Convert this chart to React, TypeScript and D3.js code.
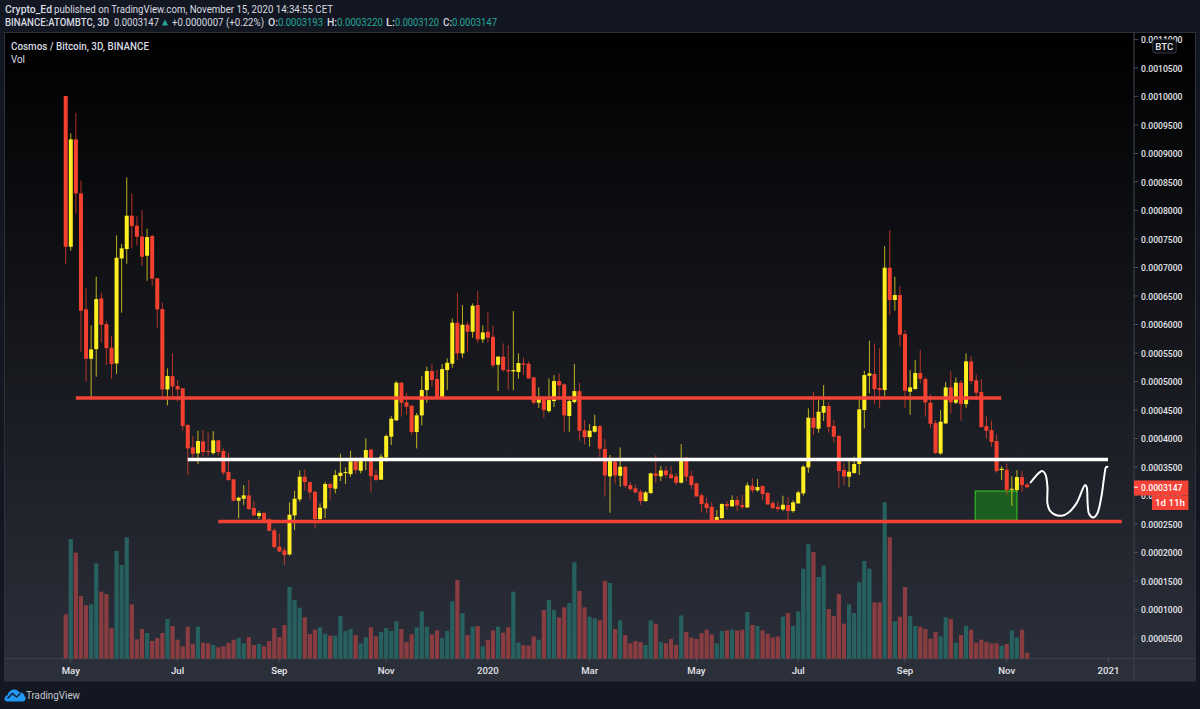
import React from "react";
import * as d3 from "d3";

// Prices in units of 0.0000001 BTC, 3-day candles
const opens = [10007,7364,9247,8299,6265,5399,5569,6458,6007,5592,5317,7159,7323,7908,7732,7545,7206,7551,6808,6270,
4861,5095,4920,4880,4237,3845,3740,3950,3781,3745,3968,3781,3412,3284,2909,2944,3003,2781,2640,2693,
2582,2389,2103,2038,1968,2652,2933,3330,3237,3067,2588,2775,3202,3120,3342,3395,3377,3599,3436,3623,
3804,3360,3278,3669,4032,4319,4979,4634,4576,4114,4406,4850,5183,5043,4704,5201,5312,6031,5493,5996,
5873,6341,5739,5873,5785,5294,5435,5201,5177,5166,5318,5312,5072,4628,4721,4481,4657,5008,4949,4394,
4639,4832,4148,4025,4119,4218,3815,3336,3593,3347,3505,3183,3125,3067,2903,3043,3388,3336,3441,3371,
3336,3225,3664,3342,3213,3005,2863,2804,2564,2605,2851,2810,2921,2833,2792,3172,3091,3167,3044,2868,
2804,2757,2833,2728,2863,3038,3494,4365,4172,4453,4570,4219,4044,3447,3330,3395,3553,4499,5101,5131,
4885,4850,6996,6429,6516,5832,4821,4868,5148,5043,4628,4271,3739,4265,4897,4628,4979,4604,5353,5020,
4815,4218,4148,3955,3447,3453,3102,3096,3324,3193];
const highs = [10007,9352,9714,8522,6633,5984,6838,6557,6060,5797,7563,7411,8580,8294,7896,8007,7680,7574,6820,6382,
5230,5493,5025,4880,4254,4044,4137,4149,4102,4131,3980,3827,3757,3295,2980,3184,3272,2898,2734,2710,
2599,2424,2330,2085,2880,3085,3441,3459,3243,3079,2863,3237,3225,3447,3734,3494,3786,3670,3670,4003,
3821,3447,3728,4073,4394,5008,4997,4804,4587,4447,5095,5259,5306,5201,5306,5405,6107,6557,6341,6048,
6370,6590,5984,6218,5984,5446,5668,5639,6236,5493,5417,5353,5084,4897,4745,5055,5113,5142,4967,4745,
5306,4978,4324,4253,4417,4236,3990,3710,3610,3844,3517,3236,3195,3107,3078,3400,3710,3517,3517,3517,
3389,3903,3681,3430,3225,3038,2962,2892,2746,2863,2909,3003,2991,3009,3231,3307,3290,3178,3061,2909,
2892,2997,2974,2915,3085,3535,4529,4815,4675,4938,4640,4324,4061,3564,3652,3681,4722,5189,5715,5669,
5581,7376,7657,6838,6674,5903,5201,5376,5552,5084,4780,4324,4499,4990,5183,5072,5025,5493,5446,5125,
5043,4394,4312,4072,3517,3564,3341,3447,3429,3220];
const lows = [7054,7294,7949,5522,4996,4721,5084,5686,5288,5048,5136,6206,7066,7335,7387,7031,6767,6680,5949,4720,
4581,4721,4645,4137,3360,3670,3553,3681,3699,3716,3699,3360,3260,2898,2599,2833,2751,2640,2588,2558,
2371,2073,2009,1781,1945,2395,2892,3085,2933,2424,2512,2605,2933,3038,3254,3202,3330,3383,3389,3447,
3050,3254,3272,3593,3886,4307,4383,4418,4061,3827,4230,4628,4908,4692,4698,4850,5242,5376,5417,5522,
5768,5680,5680,5680,5247,4832,5171,4862,4850,5049,5113,5049,4598,4534,4365,4452,4552,4674,4113,4119,
4616,3961,3897,3856,4101,3680,2979,2698,3213,3154,3137,3084,3037,2838,2891,3031,3224,3254,3300,3289,
3184,3213,3254,3114,2980,2705,2687,2547,2547,2594,2746,2798,2728,2763,2781,3038,3067,2921,2833,2757,
2716,2728,2512,2699,2851,2997,3400,4061,4102,4307,4102,3927,3137,3184,3149,3383,3360,4178,4792,4604,
4528,4745,6160,6242,5610,4540,4417,4856,4967,4382,4178,3727,3710,4254,4441,4604,4312,4540,4955,4675,
4195,3996,3856,3400,3271,3008,2821,3067,3067,3120];
const closes = [7364,9247,8299,6241,5399,5563,6446,5996,5586,5306,7171,7335,7908,7726,7539,7189,7533,6803,6265,4861,
5095,4914,4861,4219,3827,3734,3956,3763,3775,3968,3763,3401,3272,2909,2962,3003,2763,2652,2693,2570,
2383,2097,2021,1956,2664,2944,3330,3237,3055,2588,2787,3202,3132,3360,3400,3412,3599,3447,3646,3798,
3342,3272,3681,4044,4348,4979,4628,4558,4114,4406,4850,5183,5025,4704,5218,5329,6031,5493,5996,5873,
6329,5739,5861,5768,5283,5435,5201,5177,5201,5323,5294,5055,4628,4721,4499,4674,5008,4932,4406,4657,
4832,4137,4025,4137,4218,3821,3353,3604,3353,3505,3172,3113,3055,2903,3055,3388,3347,3441,3359,3306,
3225,3652,3330,3184,2985,2851,2781,2559,2623,2851,2816,2921,2827,2798,3178,3091,3149,3026,2845,2781,
2763,2839,2728,2880,3055,3506,4365,4190,4470,4570,4202,4032,3430,3336,3418,3553,4511,5113,5142,4868,
4850,6996,6429,6516,5821,4838,4897,5148,5049,4634,4259,3745,4295,4897,4634,4979,4604,5353,5008,4803,
4201,4137,3938,3429,3470,3096,3119,3324,3184,3147];

// Volume (relative units, the panel has no scale of its own)
const volumes = [133,359,318,188,160,163,286,201,194,92,323,281,364,163,58,89,77,53,62,77,
119,98,57,37,96,44,96,48,46,41,34,37,48,57,62,46,65,41,44,37,
53,92,65,101,215,176,153,124,74,87,94,75,69,69,128,83,89,71,46,64,
94,67,80,92,83,112,89,50,73,94,142,96,73,85,62,83,172,236,137,71,
96,98,37,57,85,96,78,94,201,48,41,39,67,57,146,176,146,124,154,167,
289,203,154,126,121,115,233,227,89,115,71,46,53,50,41,115,105,50,46,59,
41,130,80,64,59,77,87,73,46,83,85,87,85,87,140,101,98,85,75,64,
67,126,137,98,142,270,343,320,245,279,149,128,194,105,163,137,229,293,270,169,
169,469,364,112,126,215,128,98,96,89,60,80,67,124,119,48,71,98,87,48,
57,50,46,46,39,44,85,64,87,18];
// direction of every volume bar, read bar by bar: t = teal, r = red
const volumeDirection = (
  "rtrrrttrrrtttrrrtrrr" +
  "trrrrrtrrtrrrrttrrtr" +
  "rrrrtttrrrttrttttrtt" +
  "rrttttrrrtttrrtttrtr" +
  "trtrrtrrttrrrtrttrrt" +
  "trrttrrtrtrrrrttrtrr" +
  "rtrrrrrrttrtrrtrtrrr" +
  "rtrttttrttrrrrtttttr" +
  "rtrtrrttrrrrttrtrtrr" +
  "rrrrtrttrr"
).split("");

const timeTickIdx = [1, 22, 42, 63, 83, 103, 124, 144, 165, 185, 205];
const timeTickLabels = ["May", "Jul", "Sep", "Nov", "2020", "Mar", "May", "Jul", "Sep", "Nov", "2021"];
const priceTicks = d3.range(500, 11001, 500);

// Drawings on the chart
const supportTop = { from: 2, to: 183.9, price: 4710 };
const resistance = { from: 24, to: 204.9, price: 3631 };
const supportLow = { from: 30, to: 207.6, price: 2544 };
const greenBox = { from: 178.8, to: 187, top: 3079, bottom: 2565 };
const waveIdx = [189.7,190.5,191.5,192.05,192.6,193,193,193.5,194.5,195.8,197.1,198.7,200.4,200.7,200.9,201.2,202,202.8,203.6,204.2,204.5,204.8];
const wavePrice = [3230,3318,3412,3429,3371,3154,2862,2733,2663,2646,2698,2862,3184,3154,2862,2675,2616,2687,2979,3359,3494,3505];

const lastPrice = 3147;
const FONT = "Roboto,'Noto Sans',sans-serif";
const TEAL = "#26a69a";
const LIGHT = "#d8dae0";

const x = d3.scaleLinear().domain([0, 189]).range([65.7, 1027.1]);
const y = d3.scaleLinear().domain([500, 11000]).range([638.1, 39.4]);
const vy = d3.scaleLinear().domain([0, 469]).range([658.7, 502.3]);
const fmt = (v: number) => (v / 1e7).toFixed(7);

function T(p: { x: number; y: number; w: number; s?: number; b?: boolean; f?: string; c?: string; a?: string }) {
  return (
    <text x={p.x} y={p.y} fontSize={p.s ?? 10.3} fontWeight={p.b ? 500 : 400} fill={p.f ?? LIGHT}
      textLength={p.w} lengthAdjust="spacingAndGlyphs">{p.c}</text>
  );
}

export default function App() {
  const wave = d3.line<number>()
    .x((d) => x(d))
    .y((_, i) => y(wavePrice[i]))
    .curve(d3.curveCatmullRom.alpha(0.5))(waveIdx) as string;

  return (
    <svg width={1200} height={709} viewBox="0 0 1200 709"
      style={{ position: "fixed", left: 0, top: 0, background: "#131722" }} fontFamily={FONT}>
      <defs>
        <linearGradient id="bg" x1="0" y1="0" x2="0" y2="1">
          <stop offset="0" stopColor="#000000" />
          <stop offset="1" stopColor="#2c303b" />
        </linearGradient>
      </defs>

      <T x={5} y={13} w={47} b c="Crypto_Ed" />
      <T x={54} y={13} w={279} c="published on TradingView.com, November 15, 2020 14:34:55 CET" />
      <T x={5} y={26} w={104} b c="BINANCE:ATOMBTC, 3D" />
      <T x={114} y={26} w={45} c="0.0003147" />
      <path d={d3.line()([[162, 25.5], [168, 25.5], [165, 19.5]]) + "Z"} fill={TEAL} />
      <T x={172} y={26} w={92} c="+0.0000007 (+0.22%)" />
      <T x={268} y={26} w={10} b c="O:" />
      <T x={278} y={26} w={45} f={TEAL} c="0.0003193" />
      <T x={327} y={26} w={10} b c="H:" />
      <T x={337} y={26} w={46} f={TEAL} c="0.0003220" />
      <T x={386} y={26} w={9} b c="L:" />
      <T x={395} y={26} w={44} f={TEAL} c="0.0003120" />
      <T x={443} y={26} w={9} b c="C:" />
      <T x={452} y={26} w={45} f={TEAL} c="0.0003147" />

      <rect x={4.5} y={32.5} width={1191} height={648.5} fill="url(#bg)" stroke="#2c303b" />
      <line x1={1134} x2={1134} y1={32.5} y2={681} stroke="#3a3e49" strokeWidth={1.2} />
      <line x1={4.5} x2={1195.5} y1={658.7} y2={658.7} stroke="#3a3e49" strokeWidth={1.2} />

      <T x={11} y={49.5} w={138} b c="Cosmos / Bitcoin, 3D, BINANCE" />
      <T x={11} y={62.7} w={14} c="Vol" />

      {/* volume */}
      {volumes.map((v, i) => (
        <rect key={i} x={x(i) - 2.1} width={4.2} y={vy(v)} height={vy(0) - vy(v)}
          fill={volumeDirection[i] === "t" ? "#26615f" : "#8a3d40"} />
      ))}

      <rect x={x(greenBox.from)} width={x(greenBox.to) - x(greenBox.from)} y={y(greenBox.top)}
        height={y(greenBox.bottom) - y(greenBox.top)} fill="#1b5e20" stroke="#2fc41f" strokeWidth={1.1} />

      {/* candles */}
      {opens.map((o, i) => {
        const c = closes[i];
        const up = c >= o;
        const col = up ? "#ffee22" : "#f4402f";
        const top = y(Math.max(o, c));
        const h = Math.max(1, y(Math.min(o, c)) - top);
        return (
          <g key={i}>
            <line x1={x(i)} x2={x(i)} y1={y(highs[i])} y2={y(lows[i])} stroke={col} strokeWidth={1} opacity={0.72} />
            <rect x={x(i) - 2} width={4} y={top} height={h} fill={col} />
          </g>
        );
      })}

      {/* drawings */}
      <line x1={x(supportTop.from)} x2={x(supportTop.to)} y1={y(supportTop.price)} y2={y(supportTop.price)} stroke="#f44336" strokeWidth={3.5} />
      <line x1={x(resistance.from)} x2={x(resistance.to)} y1={y(resistance.price)} y2={y(resistance.price)} stroke="#ffffff" strokeWidth={3.5} />
      <line x1={x(supportLow.from)} x2={x(supportLow.to)} y1={y(supportLow.price)} y2={y(supportLow.price)} stroke="#f44336" strokeWidth={3.5} />
      <path d={wave} fill="none" stroke="#ffffff" strokeWidth={2} strokeLinecap="round" />

      {/* price axis */}
      {priceTicks.map((t) => (
        <g key={t}>
          <line x1={1134} x2={1138} y1={y(t)} y2={y(t)} stroke="#4a4e59" />
          <T x={1141} y={y(t) + 3.6} w={41.5} s={9.7} b f="#e3e5ea" c={fmt(t)} />
        </g>
      ))}
      <rect x={1152.7} y={39.7} width={23.5} height={13.3} rx={2.5} fill="#0a0c11" stroke="#363a45" />
      <text x={1164.4} y={50} fontSize={9.7} fontWeight={500} fill="#e3e5ea" textAnchor="middle">BTC</text>

      <rect x={1134} y={y(lastPrice) - 6.7} width={54.4} height={15} fill="#f44336" />
      <line x1={1134} x2={1138} y1={y(lastPrice)} y2={y(lastPrice)} stroke="#ffffff" />
      <T x={1141} y={y(lastPrice) + 3.8} w={41.5} s={9.7} b f="#ffffff" c={fmt(lastPrice)} />
      <rect x={1152} y={y(lastPrice) + 8.3} width={36.4} height={14.5} fill="#f44336" />
      <text x={1170} y={y(lastPrice) + 19.3} fontSize={9.7} fontWeight={500} fill="#ffffff" textAnchor="middle">1d 11h</text>

      {/* time axis */}
      {timeTickIdx.map((t, i) => (
        <g key={t}>
          <line x1={x(t)} x2={x(t)} y1={658.7} y2={662} stroke="#4a4e59" />
          <text x={x(t)} y={674} fontSize={9.6} fontWeight={500} fill="#e3e5ea" textAnchor="middle">{timeTickLabels[i]}</text>
        </g>
      ))}

      {/* logo */}
      <g transform="translate(4.5,689)">
        <path d="M0 10 C0 7.5 2 6.5 3 6.3 C4 2.5 7 0.5 10 0.6 C12.5 0.7 14 2 15 3.5 C18 3 20 5 20 7.2 C22.5 7.8 20.7 12.5 19 12.5 L3 12.5 C1.2 12.5 0 11.5 0 10 Z" fill="#2196f3" />
        <path d="M3 9.5 L8 4.5 L12 8 L16 4.5" fill="none" stroke="#131722" strokeWidth={1.3} />
      </g>
      <T x={26} y={699} w={54} s={11} f="#c5c8d0" c="TradingView" />
    </svg>
  );
}
